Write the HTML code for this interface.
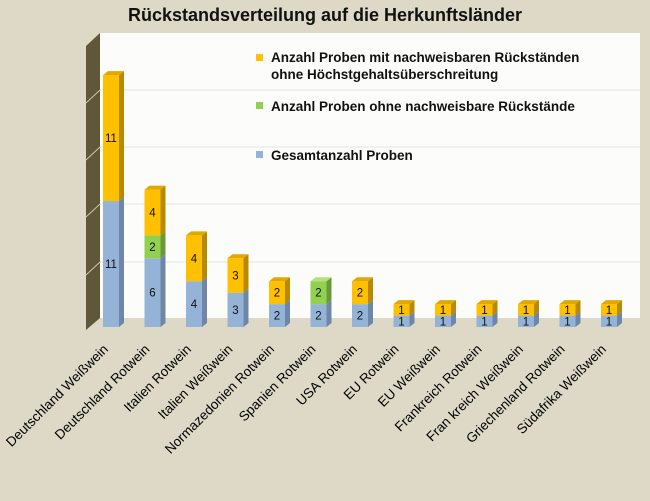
<!DOCTYPE html>
<html><head><meta charset="utf-8"><style>
html,body{margin:0;padding:0;background:#ddd9c6;}
svg{display:block;font-family:"Liberation Sans",Arial,sans-serif;}
</style></head><body>
<svg id="s" width="650" height="501" viewBox="0 0 650 501" xmlns="http://www.w3.org/2000/svg">
<rect width="650" height="501" fill="#ddd9c6"/>
<text x="325" y="21" text-anchor="middle" font-size="18" font-weight="bold" fill="#111">Rückstandsverteilung auf die Herkunftsländer</text>
<rect x="100" y="33" width="540" height="285" fill="#fcfdfb"/>
<polygon points="86,46 100,33 100,318 86,330" fill="#5f5737"/>
<g stroke="#e4e4e0" stroke-width="1">
<line x1="100" y1="90" x2="640" y2="90"/><line x1="100" y1="147" x2="640" y2="147"/>
<line x1="100" y1="204" x2="640" y2="204"/><line x1="100" y1="262" x2="640" y2="262"/>
</g>
<g stroke="#c9c6b4" stroke-width="1">
<line x1="86" y1="103" x2="100" y2="90"/><line x1="86" y1="160" x2="100" y2="147"/>
<line x1="86" y1="217" x2="100" y2="204"/><line x1="86" y1="275" x2="100" y2="262"/>
</g>
<rect x="256" y="54" width="7" height="7" fill="#ffc000"/>
<rect x="256" y="102" width="7" height="7" fill="#92d050"/>
<rect x="256" y="151" width="7" height="7" fill="#95b3d7"/>
<g font-size="13.5" font-weight="bold" fill="#111">
<text x="271" y="62">Anzahl Proben mit nachweisbaren Rückständen</text>
<text x="271" y="79">ohne Höchstgehaltsüberschreitung</text>
<text x="271" y="111">Anzahl Proben ohne nachweisbare Rückstände</text>
<text x="271" y="160">Gesamtanzahl Proben</text>
</g>
<g id="bars"></g>
<g id="labels" font-size="13.5" fill="#000"></g>
</svg>
<script>
var data=[["Deutschland Weißwein",11,0,11],["Deutschland Rotwein",6,2,4],["Italien Rotwein",4,0,4],["Italien Weißwein",3,0,3],["Normazedonien Rotwein",2,0,2],["Spanien Rotwein",2,2,0],["USA Rotwein",2,0,2],["EU Rotwein",1,0,1],["EU Weißwein",1,0,1],["Frankreich Rotwein",1,0,1],["Fran kreich Weißwein",1,0,1],["Griechenland Rotwein",1,0,1],["Südafrika Weißwein",1,0,1]];
var cols=[["#95b3d7","#6f87a6","#b8cce4"],["#92d050","#6a9a38","#b5e080"],["#ffc000","#b88a00","#e0a800"]];
var u=11.45,bw=16,d=5,base=327,h="",l="";
data.forEach(function(r,i){
 var x=103+i*41.5,y=base;
 for(var k=0;k<3;k++){var v=r[k+1];if(!v)continue;var hh=v*u,t=y-hh,c=cols[k];
  h+='<rect x="'+x+'" y="'+t+'" width="'+bw+'" height="'+hh+'" fill="'+c[0]+'"/>';
  h+='<polygon points="'+(x+bw)+','+t+' '+(x+bw+d)+','+(t-4)+' '+(x+bw+d)+','+(y-4)+' '+(x+bw)+','+y+'" fill="'+c[1]+'"/>';
  h+='<text x="'+(x+bw/2)+'" y="'+(t+hh/2+4)+'" text-anchor="middle" font-size="11.5" fill="#111">'+v+'</text>';
  y=t;}
 var c=cols[r[3]?2:(r[2]?1:0)];
 h+='<polygon points="'+x+','+y+' '+(x+d)+','+(y-4)+' '+(x+bw+d)+','+(y-4)+' '+(x+bw)+','+y+'" fill="'+c[2]+'"/>';
 var lx=x+bw/2-2,ly=350;
 l+='<text x="'+lx+'" y="'+ly+'" text-anchor="end" transform="rotate(-45 '+lx+' '+ly+')">'+r[0]+'</text>';
});
document.getElementById("bars").innerHTML=h;
document.getElementById("labels").innerHTML=l;
</script>
</body></html>
